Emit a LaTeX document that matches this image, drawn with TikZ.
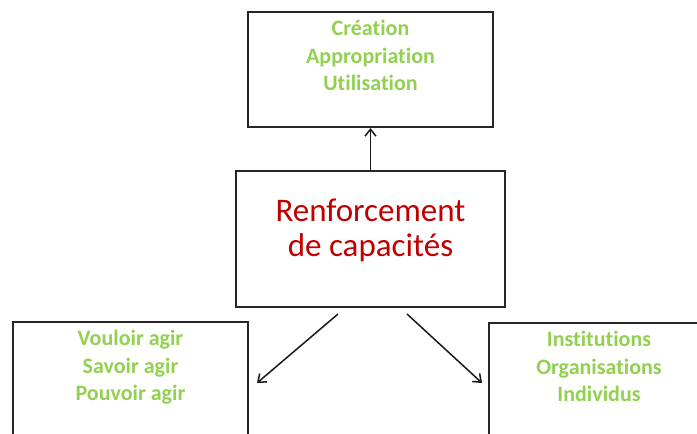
\documentclass[tikz,border=0pt]{standalone}
\usepackage{fontspec}
\setmainfont{Carlito}[Ligatures=NoCommon]
\usetikzlibrary{positioning,arrows.meta}
\definecolor{leafgreen}{RGB}{146,208,80}
\definecolor{capred}{RGB}{192,0,0}

\begin{document}
\begin{tikzpicture}[x=1pt,y=-1pt,
  box/.style={rectangle,draw=black!85,line width=2pt,inner sep=0pt},
  greentext/.style={text=leafgreen,font=\bfseries\fontsize{22}{27.4}\selectfont,align=center},
  redtext/.style={text=capred,font=\fontsize{33}{35}\selectfont,align=center},
  arr/.style={-{Straight Barb[length=7pt,width=11pt]},line width=1.5pt,black!90}]
  \useasboundingbox (0,0) rectangle (697,434);
  \clip (0,0) rectangle (697,434);
  % boxes
  \node[box,minimum width=245pt,minimum height=115pt] (use) at (370.5,69.5) {};
  \node[box,minimum width=269pt,minimum height=136pt] (cap) at (370.5,238.5) {};
  \node[box,minimum width=235pt,minimum height=138pt] (agir) at (130.5,391) {};
  \node[box,minimum width=220pt,minimum height=137pt] (level) at (599,391.5) {};
  % texts
  \node[greentext,below=6pt of use.north] (usetxt) {Création\\Appropriation\\Utilisation};
  \node[redtext,below=26pt of cap.north] (captxt) {Renforcement\\de capacités};
  \node[greentext,below=6pt of agir.north] (agirtxt) {Vouloir agir\\Savoir agir\\Pouvoir agir};
  \node[greentext,below=6pt of level.north] (leveltxt) {Institutions\\Organisations\\Individus};
  % arrows
  \coordinate (capL) at (338,314);
  \coordinate (capR) at (407,314);
  \coordinate (agirtip) at (257,383);
  \coordinate (leveltip) at (482,383);
  \draw[arr] (cap) -- (use);
  \draw[arr] (capL) -- (agirtip);
  \draw[arr] (capR) -- (leveltip);
\end{tikzpicture}
\end{document}
